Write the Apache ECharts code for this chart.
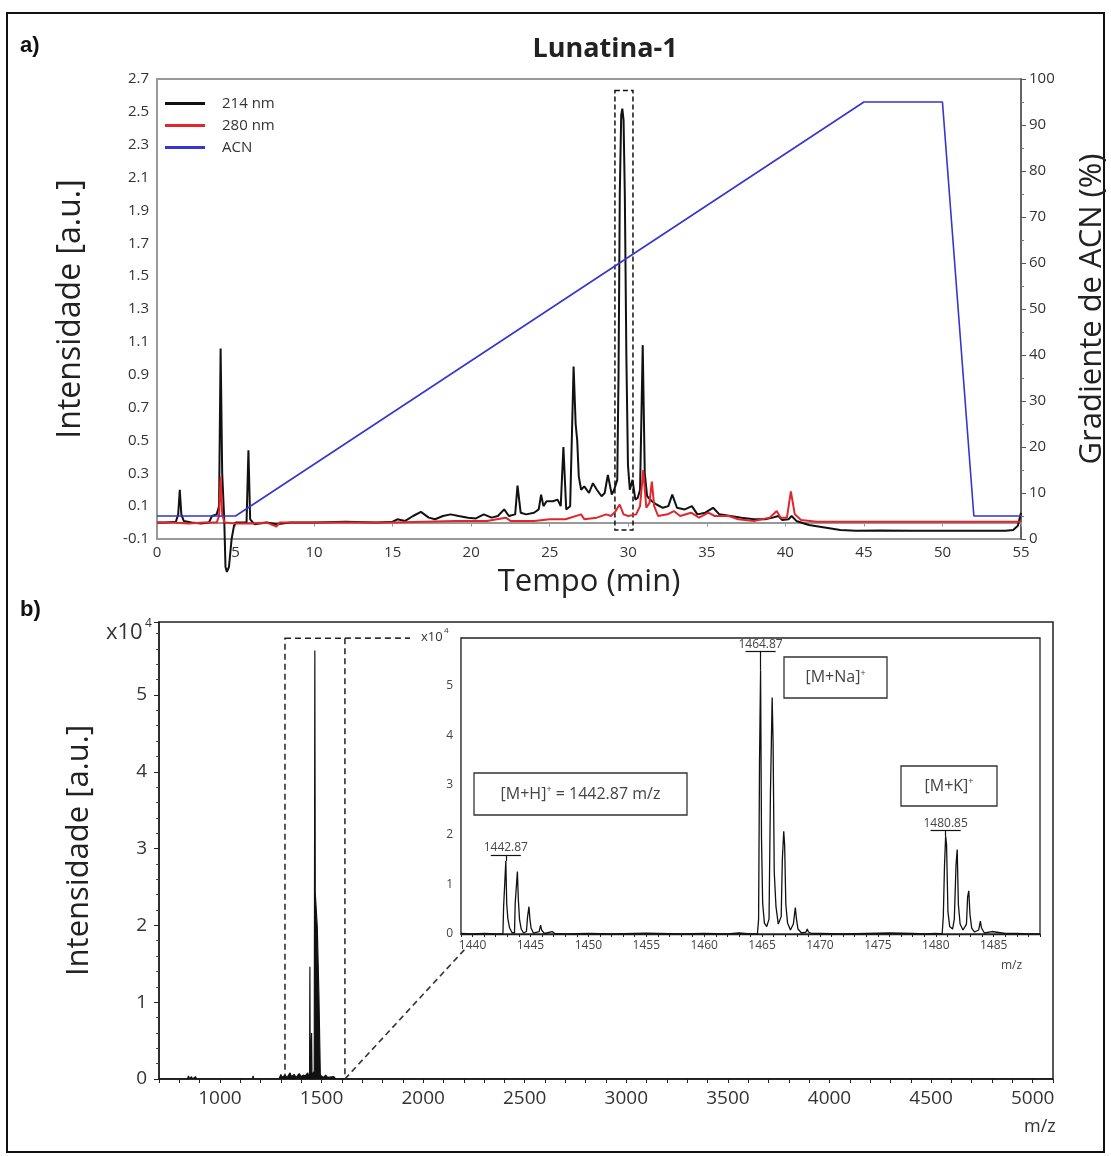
<!DOCTYPE html>
<html>
<head>
<meta charset="utf-8">
<script src="https://cdn.jsdelivr.net/npm/echarts@6/dist/echarts.min.js"></script>
<style>
  html, body { margin: 0; padding: 0; background: #fff; }
  #main { width: 1111px; height: 1156px; }
</style>
</head>
<body>
<div id="main"></div>
<script>
// a) chromatogram, [tempo (min), intensidade]
var uv214 = [
  [0, 0.0], [0.5, 0.0], [1.2, 0.005], [1.35, 0.05], [1.45, 0.2], [1.55, 0.05], [1.7, 0.01], [2.2, 0.0], [2.8, -0.005],
  [3.3, 0.0], [3.5, 0.04], [3.8, 0.05], [3.95, 0.1], [4.05, 1.06], [4.15, 0.3], [4.28, 0.02], [4.36, -0.27], [4.45, -0.3],
  [4.58, -0.27], [4.75, -0.1], [4.9, -0.02], [5.0, 0.0], [5.4, 0.0], [5.7, 0.0], [5.82, 0.44], [5.93, 0.02], [6.2, -0.01],
  [7.0, 0.0], [7.6, -0.01], [8.5, 0.0], [10, 0.0], [12, 0.005], [14, 0.0], [15.0, 0.005], [15.3, 0.02], [15.8, 0.01],
  [16.3, 0.04], [16.8, 0.065], [17.3, 0.03], [17.7, 0.02], [18.2, 0.04], [18.7, 0.05], [19.2, 0.04], [19.8, 0.03],
  [20.3, 0.025], [20.8, 0.05], [21.3, 0.03], [21.7, 0.04], [22.1, 0.08], [22.4, 0.04], [22.8, 0.05], [22.95, 0.225],
  [23.15, 0.06], [23.5, 0.05], [24.0, 0.06], [24.3, 0.08], [24.45, 0.17], [24.6, 0.1], [24.8, 0.13], [25.2, 0.13],
  [25.5, 0.14], [25.7, 0.1], [25.87, 0.46], [26.05, 0.08], [26.3, 0.1], [26.52, 0.95], [26.65, 0.6], [26.75, 0.5],
  [26.85, 0.28], [27.0, 0.2], [27.2, 0.22], [27.5, 0.18], [27.75, 0.24], [28.0, 0.2], [28.3, 0.16], [28.5, 0.18],
  [28.7, 0.29], [28.95, 0.17], [29.1, 0.2], [29.3, 0.26], [29.38, 0.9], [29.46, 2.0], [29.55, 2.48], [29.62, 2.52],
  [29.7, 2.45], [29.78, 2.0], [29.88, 1.0], [29.98, 0.35], [30.1, 0.2], [30.27, 0.26], [30.45, 0.14], [30.6, 0.15],
  [30.75, 0.2], [30.92, 1.08], [31.05, 0.3], [31.2, 0.16], [31.5, 0.13], [31.8, 0.11], [32.2, 0.09], [32.55, 0.1],
  [32.8, 0.17], [33.1, 0.09], [33.6, 0.08], [34.05, 0.1], [34.4, 0.05], [34.9, 0.06], [35.4, 0.09], [35.8, 0.05],
  [36.5, 0.04], [37.2, 0.03], [38.0, 0.02], [38.7, 0.02], [39.2, 0.03], [39.55, 0.04], [39.8, 0.015], [40.2, 0.02],
  [40.4, 0.04], [40.7, 0.01], [41.5, -0.015], [42.5, -0.03], [43.5, -0.045], [44.5, -0.05], [46, -0.048], [48, -0.05],
  [50, -0.05], [52, -0.05], [54, -0.05], [54.5, -0.045], [54.8, -0.02], [55, 0.06]
];
var uv280 = [
  [0, 0.0], [1.0, 0.0], [2.0, -0.005], [3.0, 0.0], [3.8, 0.0], [3.95, 0.04], [4.05, 0.28], [4.15, 0.05], [4.3, 0.0],
  [5, -0.005], [6, -0.005], [7, 0.0], [7.6, -0.025], [7.8, 0.0], [9, 0.0], [12, 0.0], [15, 0.0], [17, 0.005], [19, 0.01],
  [21, 0.01], [22.2, 0.03], [22.5, 0.01], [24, 0.01], [25, 0.02], [26, 0.02], [27, 0.05], [27.2, 0.02], [28, 0.03],
  [28.6, 0.05], [28.9, 0.04], [29.2, 0.07], [29.45, 0.11], [29.7, 0.05], [30.0, 0.04], [30.5, 0.05], [30.75, 0.1],
  [30.95, 0.32], [31.15, 0.09], [31.35, 0.12], [31.5, 0.25], [31.65, 0.1], [31.9, 0.04], [32.5, 0.05], [32.9, 0.07],
  [33.3, 0.04], [34.0, 0.06], [34.5, 0.03], [35.1, 0.06], [35.5, 0.04], [36.4, 0.04], [37, 0.02], [38, 0.01], [39, 0.03],
  [39.45, 0.07], [39.7, 0.03], [40.1, 0.03], [40.35, 0.19], [40.6, 0.05], [41, 0.015], [42, 0.005], [45, 0.005],
  [50, 0.005], [55, 0.005]
];
var acn = [[0, 5], [5, 5], [45, 95], [50, 95], [52, 5], [55, 5]];
var peakBox = [[29.15, 2.63], [30.3, -0.045]];

// b) MALDI spectrum, [m/z, x10^4]
var msFull = [
  [700, 0], [840, 0], [845, 0.04], [850, 0], [860, 0.03], [865, 0], [880, 0.03], [885, 0], [1160, 0], [1163, 0.04],
  [1166, 0], [1290, 0], [1300, 0.06], [1305, 0.02], [1320, 0.05], [1330, 0.02], [1345, 0.08], [1352, 0.03], [1365, 0.06],
  [1375, 0.02], [1390, 0.07], [1400, 0.03], [1410, 0.05], [1420, 0.04], [1432, 0.08], [1438, 0.1], [1441, 0],
  [1442.7, 1.46], [1444, 0.1], [1451, 0.6], [1453, 0.05], [1464, 0.1], [1467, 5.58], [1469, 2.42], [1478, 2.42],
  [1479, 1.98], [1486, 1.98], [1487, 1.08], [1492, 1.08], [1494, 0.05], [1500, 0.06], [1510, 0.02], [1520, 0.05],
  [1530, 0.02], [1560, 0.03], [1570, 0], [5100, 0]
];
var msZoom = [
  [1439, 0.01], [1440, 0.0], [1441, 0.01], [1442, 0.0], [1442.62, 0.0], [1442.68, 0.55], [1442.78, 0.58], [1442.87, 1.47],
  [1442.95, 0.6], [1443.05, 0.3], [1443.2, 0.12], [1443.4, 0.03], [1443.62, 0.02], [1443.68, 0.62], [1443.78, 0.65],
  [1443.87, 1.26], [1443.95, 0.7], [1444.05, 0.3], [1444.2, 0.1], [1444.4, 0.02], [1444.65, 0.05], [1444.75, 0.35],
  [1444.87, 0.55], [1444.95, 0.3], [1445.05, 0.12], [1445.25, 0.02], [1445.75, 0.05], [1445.87, 0.18], [1445.97, 0.08],
  [1446.2, 0.01], [1446.87, 0.05], [1447.1, 0.01], [1448, 0.0], [1450, 0.01], [1452, 0.0], [1455, 0.015], [1458, 0.0],
  [1460, 0.01], [1462, 0.0], [1463, 0.02], [1464, 0.0], [1464.6, 0.0], [1464.7, 0.3], [1464.78, 3.5], [1464.87, 5.3],
  [1464.95, 1.93], [1465.05, 0.62], [1465.2, 0.22], [1465.4, 0.15], [1465.6, 0.3], [1465.72, 2.8], [1465.87, 4.76],
  [1465.95, 3.86], [1466.05, 1.25], [1466.2, 0.55], [1466.4, 0.2], [1466.65, 0.35], [1466.75, 1.5], [1466.87, 2.07],
  [1466.95, 1.78], [1467.05, 0.6], [1467.2, 0.22], [1467.45, 0.08], [1467.7, 0.2], [1467.87, 0.53], [1467.97, 0.3],
  [1468.1, 0.1], [1468.4, 0.02], [1468.8, 0.04], [1468.9, 0.1], [1469.0, 0.04], [1469.3, 0.01], [1470, 0.01],
  [1472, 0.0], [1474, 0.01], [1476, 0.02], [1478, 0.01], [1479, 0.0], [1480, 0.01], [1480.55, 0.0], [1480.65, 0.35],
  [1480.75, 1.35], [1480.85, 1.97], [1480.93, 1.8], [1481.05, 0.45], [1481.2, 0.15], [1481.45, 0.1], [1481.6, 0.3],
  [1481.75, 1.4], [1481.85, 1.7], [1481.95, 0.6], [1482.1, 0.2], [1482.35, 0.08], [1482.65, 0.2], [1482.75, 0.75],
  [1482.85, 0.87], [1482.95, 0.4], [1483.1, 0.12], [1483.35, 0.04], [1483.7, 0.08], [1483.85, 0.26], [1483.95, 0.12],
  [1484.2, 0.02], [1484.85, 0.05], [1485.0, 0.01], [1486, 0.01], [1487, 0.01], [1488, 0.0], [1489, 0.0]
];
var zoomBox = [[1320, 5.74], [1615, 0]];
// label, m/z, peak top, bar height
var peakTags = [['1442.87', 1442.87, 1.47, 1.59], ['1464.87', 1464.87, 5.3, 5.69], ['1480.85', 1480.85, 1.97, 2.08]];

var font = '"Open Sans", "Noto Sans", sans-serif';
var chart = echarts.init(document.getElementById('main'));

// barras de rótulo dos picos
var tagLines = []
peakTags.forEach(function (p) {
    tagLines.push([{ coord: [p[1] - 1.3, p[3]], label: { show: true, formatter: p[0] } }, { coord: [p[1] + 1.3, p[3]] }])
    tagLines.push([{ coord: [p[1], p[2]], label: { show: false } }, { coord: [p[1], p[3]] }])
})

function box(x, y, w, h, rich) {
    return [
        { type: 'rect', z: 20, shape: { x: x, y: y, width: w, height: h }, style: { fill: '#fff', stroke: '#333', lineWidth: 1.3 } },
        { type: 'text', z: 21, x: x + w / 2, y: y + h / 2, style: { text: rich, align: 'center', verticalAlign: 'middle', fontSize: 16, fontFamily: font, fill: '#444', rich: { s: { fontSize: 9, fill: '#444', padding: [0, 0, 9, 0], fontFamily: font } } } }
    ]
}

var option = {
    animation: false,
    backgroundColor: '#fff',
    title: {
        text: 'Lunatina-1', left: 600, top: 31, textAlign: 'center',
        textStyle: { fontSize: 27, fontWeight: 'bold', color: '#222', fontFamily: font }
    },
    legend: {
        data: ['214 nm', '280 nm', 'ACN'], orient: 'vertical', left: 160, top: 91,
        itemWidth: 40, itemHeight: 3, icon: 'rect', itemGap: 7,
        textStyle: { fontSize: 15, color: '#333', fontFamily: font, padding: [0, 0, 0, 12] }
    },
    grid: [
        { left: 157, top: 79, width: 864, height: 460, outerBoundsMode: 'none', show: true, borderColor: '#999', borderWidth: 2 },
        { left: 159, top: 622, width: 894, height: 457, outerBoundsMode: 'none', show: true, borderColor: '#222', borderWidth: 1.5 },
        { left: 461, top: 638, width: 579, height: 296, outerBoundsMode: 'none', show: true, borderColor: '#222', borderWidth: 1.3, backgroundColor: '#fff', z: 3 }
    ],
    xAxis: [
        {
            gridIndex: 0, type: 'value', min: 0, max: 55, interval: 5,
            name: 'Tempo (min)', nameLocation: 'middle', nameGap: 28,
            nameTextStyle: { fontSize: 31, color: '#222', fontFamily: font },
            axisLine: { lineStyle: { color: '#999', width: 2 } },
            axisTick: { length: 4, lineStyle: { color: '#999' } },
            axisLabel: { fontSize: 15, color: '#333', fontFamily: font, margin: 6 },
            splitLine: { show: false }
        },
        {
            gridIndex: 1, type: 'value', min: 700, max: 5100, interval: 100,
            axisLine: { lineStyle: { color: '#222', width: 1.5 } },
            axisTick: { length: 4, lineStyle: { color: '#222' } },
            axisLabel: {
                fontSize: 19, color: '#333', fontFamily: font, margin: 10,
                formatter: function (v) { return v % 500 === 0 ? String(v) : '' }
            },
            splitLine: { show: false }
        },
        {
            gridIndex: 2, type: 'value', min: 1439, max: 1489, interval: 1,
            axisLine: { lineStyle: { color: '#222', width: 1.3 } },
            axisTick: { length: 3, lineStyle: { color: '#222' } },
            axisLabel: {
                fontSize: 12, color: '#444', fontFamily: font, margin: 6,
                formatter: function (v) { return v % 5 === 0 ? String(v) : '' }
            },
            splitLine: { show: false }
        }
    ],
    yAxis: [
        {
            gridIndex: 0, type: 'value', min: -0.1, max: 2.7, interval: 0.1,
            name: 'Intensidade [a.u.]', nameLocation: 'middle', nameGap: 70, nameRotate: 90,
            nameTextStyle: { fontSize: 32, color: '#222', fontFamily: font },
            axisLine: { show: true, lineStyle: { color: '#999', width: 2 } },
            axisTick: { show: false },
            axisLabel: {
                fontSize: 15, color: '#333', fontFamily: font, margin: 8,
                formatter: function (v) { var k = Math.round(v * 10); return k % 2 !== 0 ? v.toFixed(1) : '' }
            },
            splitLine: { show: false }
        },
        {
            gridIndex: 0, type: 'value', min: 0, max: 100, interval: 10, position: 'right',
            name: 'Gradiente de ACN (%)', nameLocation: 'middle', nameGap: 56, nameRotate: 90,
            nameTextStyle: { fontSize: 31, color: '#222', fontFamily: font },
            axisLine: { show: true, lineStyle: { color: '#555', width: 1.5 } },
            axisTick: { length: 5, lineStyle: { color: '#555' } },
            minorTick: { show: true, splitNumber: 2, length: 3, lineStyle: { color: '#777' } },
            axisLabel: { fontSize: 15, color: '#333', fontFamily: font, margin: 8 },
            splitLine: { show: false }, minorSplitLine: { show: false }
        },
        {
            gridIndex: 1, type: 'value', min: 0, max: 5.95, interval: 1,
            name: 'Intensidade [a.u.]', nameLocation: 'middle', nameGap: 64, nameRotate: 90,
            nameTextStyle: { fontSize: 31, color: '#222', fontFamily: font },
            axisLine: { show: true, lineStyle: { color: '#222', width: 1.5 } },
            axisTick: { length: 5, lineStyle: { color: '#222' } },
            minorTick: { show: true, splitNumber: 5, length: 3, lineStyle: { color: '#444' } },
            axisLabel: {
                fontSize: 19, color: '#333', fontFamily: font, margin: 12,
                formatter: function (v) { return Number.isInteger(v) ? String(v) : '' }
            },
            splitLine: { show: false }, minorSplitLine: { show: false }
        },
        {
            gridIndex: 2, type: 'value', min: 0, max: 5.96, interval: 1,
            axisLine: { show: true, lineStyle: { color: '#222', width: 1.3 } },
            axisTick: { inside: true, length: 4, lineStyle: { color: '#222' } },
            minorTick: { show: true, splitNumber: 5, length: 2, lineStyle: { color: '#444' } },
            axisLabel: {
                fontSize: 12, color: '#444', fontFamily: font, margin: 8,
                formatter: function (v) { return Number.isInteger(v) ? String(v) : '' }
            },
            splitLine: { show: false }, minorSplitLine: { show: false }
        }
    ],
    series: [
        {
            name: '214 nm', type: 'line', xAxisIndex: 0, yAxisIndex: 0, data: uv214,
            showSymbol: false, clip: false, color: '#111', lineStyle: { color: '#111', width: 2 },
            markArea: {
                silent: true,
                itemStyle: { color: 'rgba(0,0,0,0)', borderColor: '#111', borderWidth: 1.5, borderType: [5, 3] },
                data: [[{ coord: peakBox[0] }, { coord: peakBox[1] }]]
            }
        },
        {
            name: '280 nm', type: 'line', xAxisIndex: 0, yAxisIndex: 0, data: uv280,
            showSymbol: false, color: '#e3262b', lineStyle: { color: '#e3262b', width: 2 }
        },
        {
            name: 'ACN', type: 'line', xAxisIndex: 0, yAxisIndex: 1, data: acn,
            showSymbol: false, color: '#3535cf', lineStyle: { color: '#3535cf', width: 1.6 }
        },
        {
            name: 'MS', type: 'line', xAxisIndex: 1, yAxisIndex: 2, data: msFull,
            showSymbol: false, lineStyle: { color: '#111', width: 1.2 },
            areaStyle: { color: '#111', opacity: 1 },
            markArea: {
                silent: true,
                itemStyle: { color: 'rgba(0,0,0,0)', borderColor: '#222', borderWidth: 1.5, borderType: [6, 4] },
                data: [[{ coord: zoomBox[0] }, { coord: zoomBox[1] }]]
            }
        },
        {
            name: 'MS zoom', type: 'line', xAxisIndex: 2, yAxisIndex: 3, data: msZoom, z: 10,
            showSymbol: false, lineStyle: { color: '#111', width: 1.3 },
            markLine: {
                silent: true, symbol: 'none',
                lineStyle: { color: '#111', width: 1.2, type: 'solid' },
                label: { position: 'insideMiddleTop', distance: 1, fontSize: 12, color: '#444', fontFamily: font },
                data: tagLines
            }
        }
    ],
    graphic: [].concat(
        [
            { type: 'rect', shape: { x: 7, y: 13, width: 1097, height: 1139 }, style: { fill: 'none', stroke: '#111', lineWidth: 2 } },
            { type: 'text', x: 20, y: 46, style: { text: 'a)', fontSize: 22, fontWeight: 'bold', fontFamily: '"Liberation Sans", Arial', fill: '#111', verticalAlign: 'middle' } },
            { type: 'text', x: 20, y: 610, style: { text: 'b)', fontSize: 22, fontWeight: 'bold', fontFamily: '"Liberation Sans", Arial', fill: '#111', verticalAlign: 'middle' } },
            { type: 'text', x: 106, y: 633, style: { text: 'x10', fontSize: 22, fontFamily: font, fill: '#333', verticalAlign: 'middle' } },
            { type: 'text', x: 145, y: 624, style: { text: '4', fontSize: 12, fontFamily: font, fill: '#333', verticalAlign: 'middle' } },
            { type: 'text', x: 421, y: 637, z: 20, style: { text: 'x10', fontSize: 13, fontFamily: font, fill: '#333', verticalAlign: 'middle' } },
            { type: 'text', x: 444, y: 631, z: 20, style: { text: '4', fontSize: 8, fontFamily: font, fill: '#333', verticalAlign: 'middle' } },
            { type: 'text', x: 1024, y: 1127, style: { text: 'm/z', fontSize: 18, fontFamily: font, fill: '#333', verticalAlign: 'middle' } },
            { type: 'text', x: 1001, y: 966, z: 20, style: { text: 'm/z', fontSize: 12, fontFamily: font, fill: '#444', verticalAlign: 'middle' } }
        ],
        box(474, 773, 213, 42, '[M+H]{s|+} = 1442.87 m/z'),
        box(784, 657, 103, 41, '[M+Na]{s|+}'),
        box(901, 766, 96, 40, '[M+K]{s|+}')
    )
}
chart.setOption(option)

// linhas tracejadas ligando o recorte ao inset
var pBot = chart.convertToPixel({ gridIndex: 1 }, [zoomBox[1][0], 0])
var pTopR = chart.convertToPixel({ gridIndex: 1 }, [zoomBox[1][0], zoomBox[0][1]])
var pInset = chart.convertToPixel({ gridIndex: 2 }, [1439, 0])
var dash = { stroke: '#333', lineWidth: 1.6, lineDash: [6, 4] }
chart.setOption({
    graphic: option.graphic.concat([
        { type: 'line', z: 15, shape: { x1: pTopR[0], y1: pTopR[1], x2: 410, y2: pTopR[1] }, style: dash },
        { type: 'line', z: 15, shape: { x1: pBot[0], y1: pBot[1], x2: pInset[0] + 5, y2: pInset[1] + 14 }, style: dash }
    ])
})
</script>
</body>
</html>
